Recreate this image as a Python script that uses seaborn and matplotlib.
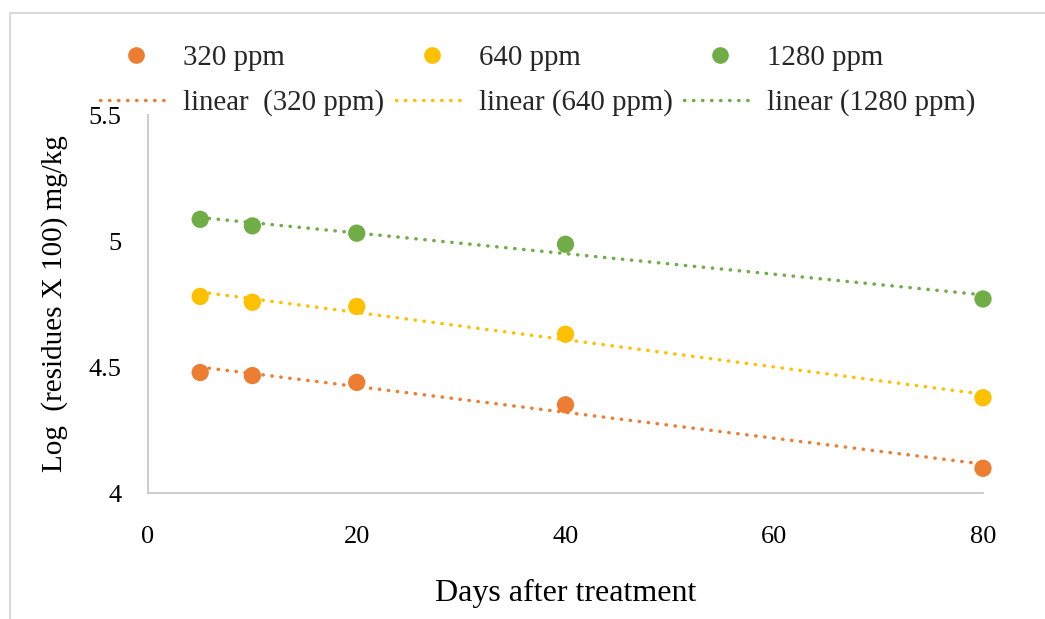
import numpy as np
import pandas as pd
import matplotlib
matplotlib.use("Agg")
import matplotlib.pyplot as plt
from matplotlib.patches import Rectangle
from matplotlib.lines import Line2D
import seaborn as sns

# ---- data ----
days = [5, 10, 20, 40, 80]
ppm320 = [4.478, 4.466, 4.439, 4.350, 4.098]
ppm640 = [4.780, 4.757, 4.740, 4.630, 4.378]
ppm1280 = [5.086, 5.060, 5.031, 4.987, 4.770]
series_names = ["320 ppm", "640 ppm", "1280 ppm"]
trend_names = ["linear  (320 ppm)", "linear (640 ppm)", "linear (1280 ppm)"]
colors = ["#ED7D31", "#FFC000", "#70AD47"]
x_ticks = [0, 20, 40, 60, 80]
y_ticks = [4, 4.5, 5, 5.5]
y_tick_labels = ["4", "4.5", "5", "5.5"]

sns.set_theme(style="white")
plt.rcParams["font.family"] = ["Liberation Serif", "DejaVu Serif"]

fig = plt.figure(figsize=(10.45, 6.19), dpi=100)
ax = fig.add_axes([148 / 1045, 1 - 493 / 619, 835 / 1045, 378 / 619])

series = [ppm320, ppm640, ppm1280]
df = pd.DataFrame({
    "days": days * 3,
    "value": ppm320 + ppm640 + ppm1280,
    "series": [n for n in series_names for _ in days],
})

dot_style = dict(lw=2.5, linestyle=(0, (0.1, 2.5)), dash_capstyle="round")

for name, vals, c in zip(series_names, series, colors):
    sns.regplot(x=days, y=vals, ax=ax, scatter=False, ci=None, truncate=True,
                line_kws=dict(color=c, **dot_style))

sns.scatterplot(data=df, x="days", y="value", hue="series", palette=colors,
                hue_order=series_names, s=155, edgecolor="none", ax=ax,
                legend=False, clip_on=False, zorder=5)

ax.set_xlim(0, 80)
ax.set_ylim(4, 5.5)
ax.set_xticks(x_ticks)
ax.set_yticks(y_ticks)
ax.set_yticklabels(y_tick_labels)
ax.tick_params(axis="x", labelsize=19, pad=24, length=0, colors="black")
ax.tick_params(axis="y", labelsize=19, pad=19, length=0, colors="black")
for s in ["top", "right"]:
    ax.spines[s].set_visible(False)
for s in ["left", "bottom"]:
    ax.spines[s].set_color("#C8C8C8")
    ax.spines[s].set_linewidth(1.3)
ax.grid(False)
ax.set_facecolor("white")

ax.set_xlabel("Days after treatment", fontsize=23, labelpad=22, color="black")
ax.set_ylabel("Log  (residues X 100) mg/kg", fontsize=21, labelpad=15, color="black")

# legend: columns -> (points, trend) pairs
handles, labels = [], []
for name, tname, c in zip(series_names, trend_names, colors):
    handles.append(Line2D([], [], marker="o", ls="none", color=c, markersize=12,
                          markeredgewidth=0))
    labels.append(name)
    handles.append(Line2D([], [], color=c, **dot_style))
    labels.append(tname)
fig.legend(handles, labels, ncol=3, loc="upper left",
           bbox_to_anchor=(100 / 1045, 1 - 45 / 619), frameon=False,
           fontsize=20.8, handlelength=2.5, handletextpad=0.37,
           columnspacing=0.4, labelspacing=0.62, borderpad=0, borderaxespad=0)

# outer chart border
fig.patches.append(Rectangle((10 / 1045, -0.1), 1.2, 1 - 13 / 619 + 0.1,
                             transform=fig.transFigure, fill=False,
                             edgecolor="#D9D9D9", lw=1.5, zorder=-1))

fig.savefig("out.png", dpi=100, facecolor="white")
